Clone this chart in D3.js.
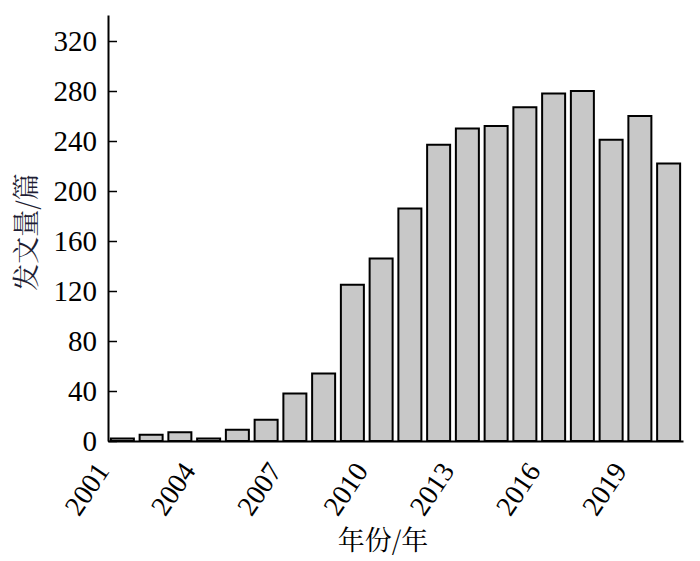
<!DOCTYPE html>
<html>
<head>
<meta charset="utf-8">
<script src="https://cdn.jsdelivr.net/npm/d3@7"></script>
<style>
  body { margin: 0; background: #fff; }
</style>
</head>
<body>
<svg width="700" height="561"></svg>
<script>
// publications per year
const years = d3.range(2001, 2021);
const counts = [2, 5, 7, 2, 9, 17, 38, 54, 125, 146, 186, 237, 250, 252, 267, 278, 280, 241, 260, 222];
const yTicks = [0, 40, 80, 120, 160, 200, 240, 280, 320];
const xTickYears = [2001, 2004, 2007, 2010, 2013, 2016, 2019];

const serif = '"Liberation Serif", serif';
const cjk = '"Noto Serif CJK SC", "Liberation Serif", serif';

const svg = d3.select('svg');
const width = +svg.attr('width');
const height = +svg.attr('height');

const margin = {top: 15, right: 17, bottom: 120, left: 108};
const innerWidth = width - margin.left - margin.right;
const innerHeight = height - margin.top - margin.bottom;

const g = svg.append('g')
  .attr('transform', `translate(${margin.left}, ${margin.top})`);

const xScale = d3.scaleBand()
  .domain(years)
  .range([0, innerWidth])
  .paddingInner(0.2)
  .paddingOuter(0.1);

// top of axis sits a bit above the 320 tick
const yScale = d3.scaleLinear()
  .domain([0, 340.8])
  .range([innerHeight, 0]);

// bars
g.selectAll('rect').data(counts)
  .enter().append('rect')
    .attr('x', (d, i) => xScale(years[i]))
    .attr('y', d => yScale(d))
    .attr('width', xScale.bandwidth())
    .attr('height', d => innerHeight - yScale(d))
    .attr('fill', '#c8c8c8')
    .attr('stroke', '#000')
    .attr('stroke-width', 2);

// y axis, ticks pointing inward
const yAxis = d3.axisLeft(yScale)
  .tickValues(yTicks)
  .tickSize(-9)
  .tickPadding(11)
  .tickSizeOuter(0);
const yAxisGroup = g.append('g').call(yAxis)
  .attr('font-size', null)
  .attr('font-family', null);
yAxisGroup.select('.domain').attr('stroke-width', 2);
yAxisGroup.selectAll('.tick line').attr('stroke-width', 1.5);
yAxisGroup.selectAll('.tick text')
  .style('font-size', '29px')
  .style('font-family', serif);

// x axis, no tick marks, rotated labels every 3 years
const xAxis = d3.axisBottom(xScale)
  .tickValues(xTickYears)
  .tickSize(0)
  .tickSizeOuter(0)
  .tickPadding(0);
const xAxisGroup = g.append('g')
  .attr('transform', `translate(0, ${innerHeight})`)
  .call(xAxis)
  .attr('font-size', null)
  .attr('font-family', null);
xAxisGroup.select('.domain').attr('stroke-width', 2);
xAxisGroup.selectAll('.tick text')
  .style('font-size', '28px')
  .style('font-family', serif)
  .attr('text-anchor', 'end')
  .attr('dy', 0)
  .attr('y', 0)
  .attr('transform', 'translate(-12, 30) rotate(-56)');

// axis titles
g.append('text')
  .attr('transform', `translate(${36 - margin.left}, ${232 - margin.top}) rotate(-90)`)
  .attr('text-anchor', 'middle')
  .style('font-size', '27px')
  .style('font-family', cjk)
  .style('fill', '#1e1e34')
  .text('发文量/篇');

g.append('text')
  .attr('x', 383 - margin.left)
  .attr('y', 550 - margin.top)
  .attr('text-anchor', 'middle')
  .style('font-size', '27px')
  .style('font-family', cjk)
  .text('年份/年');
</script>
</body>
</html>
